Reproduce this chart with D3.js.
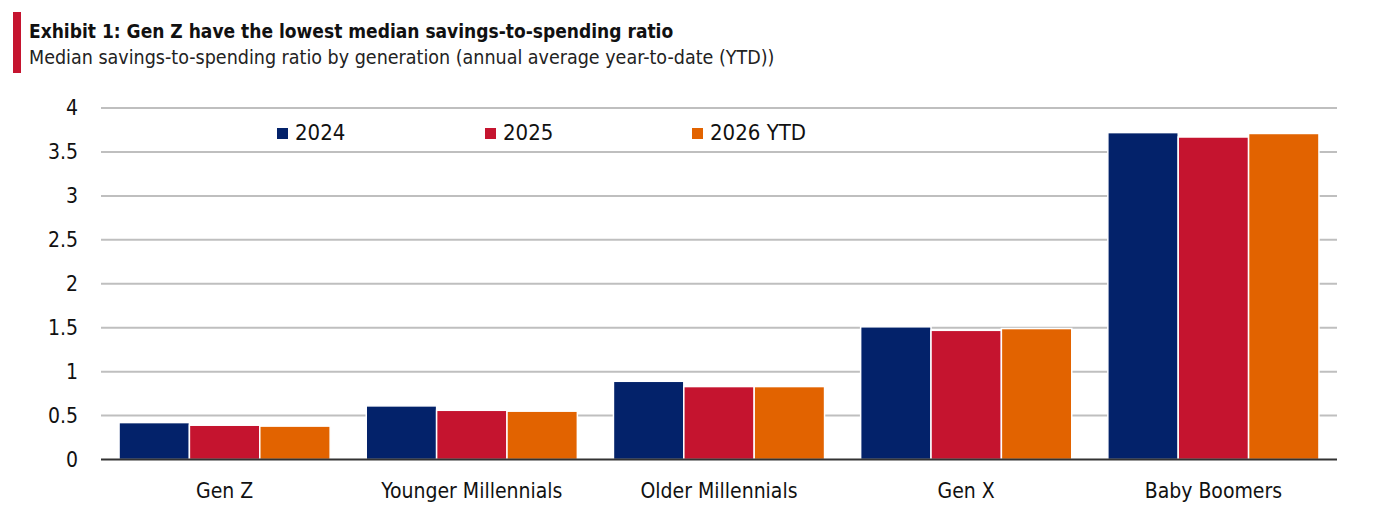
<!DOCTYPE html>
<html>
<head>
<meta charset="utf-8">
<script src="https://cdn.jsdelivr.net/npm/d3@7"></script>
<style>
  body { margin: 0; background: #fff; }
  svg { display: block; font-family: "DejaVu Sans Condensed", "Liberation Sans Narrow", sans-serif; }
  .grid line { stroke: #bfbfbf; stroke-width: 2; }
  .tick-label { font-size: 21px; fill: #111; }
</style>
</head>
<body>
<svg></svg>
<script>
//begin: data
var generations = ["Gen Z", "Younger Millennials", "Older Millennials", "Gen X", "Baby Boomers"];
var seriesNames = ["2024", "2025", "2026 YTD"];
var values2024 = [0.42, 0.61, 0.89, 1.51, 3.72];
var values2025 = [0.39, 0.56, 0.83, 1.47, 3.67];
var values2026 = [0.38, 0.55, 0.83, 1.49, 3.71];
var yTicks = [0, 0.5, 1, 1.5, 2, 2.5, 3, 3.5, 4];
//end: data

//begin: layout conf.
var svgWidth = 1378,
    svgHeight = 524,
    plotLeft = 101,
    plotRight = 1337,
    plotTop = 108,
    plotBottom = 459.5,
    colors = ["#03226a", "#c5142f", "#e26300"];
//end: layout conf.

var svg = d3.select("svg")
    .attr("width", svgWidth)
    .attr("height", svgHeight);

var x0 = d3.scaleBand()
    .domain(generations)
    .range([plotLeft, plotRight])
    .paddingInner(0.146)
    .paddingOuter(0.073);

var x1 = d3.scaleBand()
    .domain(seriesNames)
    .range([0, x0.bandwidth()])
    .padding(0);

var y = d3.scaleLinear()
    .domain([0, 4])
    .range([plotBottom, plotTop]);

function drawTitle() {
  svg.append("rect")
      .attr("x", 13).attr("y", 12)
      .attr("width", 8).attr("height", 61)
      .style("fill", "#c5142f");
  svg.append("text")
      .attr("x", 29).attr("y", 38)
      .style("font-size", "19px")
      .style("font-weight", "bold")
      .style("fill", "#111")
      .text("Exhibit 1: Gen Z have the lowest median savings-to-spending ratio");
  svg.append("text")
      .attr("x", 29).attr("y", 64)
      .style("font-size", "19.5px")
      .style("fill", "#222")
      .text("Median savings-to-spending ratio by generation (annual average year-to-date (YTD))");
}

function drawAxes() {
  svg.append("g")
      .classed("grid", true)
    .selectAll("line")
    .data(yTicks.slice(1))
    .enter()
      .append("line")
      .attr("x1", plotLeft).attr("x2", plotRight)
      .attr("y1", function(d){ return y(d); })
      .attr("y2", function(d){ return y(d); });

  svg.append("g")
    .selectAll("text")
    .data(yTicks)
    .enter()
      .append("text")
      .classed("tick-label", true)
      .attr("x", 78)
      .attr("y", function(d){ return y(d) + 7; })
      .attr("text-anchor", "end")
      .text(function(d){ return d; });

  svg.append("g")
    .selectAll("text")
    .data(generations)
    .enter()
      .append("text")
      .classed("tick-label", true)
      .attr("x", function(d){ return x0(d) + x0.bandwidth()/2; })
      .attr("y", 498)
      .attr("text-anchor", "middle")
      .text(function(d){ return d; });
}

function drawBars() {
  var series = [values2024, values2025, values2026];
  var rows = generations.map(function(g, i){
    return { name: g, vals: seriesNames.map(function(s, j){ return { key: s, idx: j, value: series[j][i] }; }) };
  });

  var groups = svg.append("g")
    .selectAll("g")
    .data(rows)
    .enter()
      .append("g")
      .attr("transform", function(d){ return "translate(" + x0(d.name) + ",0)"; });

  groups.selectAll("rect")
    .data(function(d){ return d.vals; })
    .enter()
      .append("rect")
      .attr("x", function(d){ return x1(d.key); })
      .attr("y", function(d){ return y(d.value); })
      .attr("width", x1.bandwidth())
      .attr("height", function(d){ return y(0) - y(d.value); })
      .style("fill", function(d){ return colors[d.idx]; })
      .style("stroke", "#fff")
      .style("stroke-width", 1.5);

  svg.append("line")
      .attr("x1", plotLeft).attr("x2", plotRight)
      .attr("y1", y(0)).attr("y2", y(0))
      .style("stroke", "#333")
      .style("stroke-width", 2);
}

function drawLegend() {
  var legendX = [277, 485, 692];
  var legend = svg.append("g")
    .selectAll("g")
    .data(seriesNames)
    .enter()
      .append("g")
      .attr("transform", function(d, i){ return "translate(" + [legendX[i], 128] + ")"; });

  legend.append("rect")
      .attr("width", 11).attr("height", 11)
      .style("fill", function(d, i){ return colors[i]; });
  legend.append("text")
      .attr("x", 18).attr("y", 12)
      .style("font-size", "22px")
      .style("fill", "#111")
      .text(function(d){ return d; });
}

drawTitle();
drawAxes();
drawBars();
drawLegend();
</script>
</body>
</html>
